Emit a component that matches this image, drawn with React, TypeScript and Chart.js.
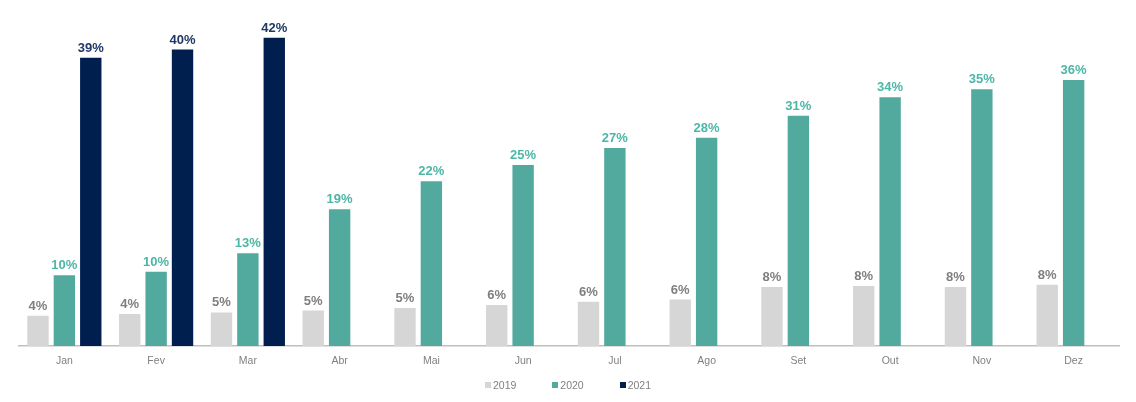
import React, { useEffect, useRef } from 'react';
import { Chart, registerables } from 'chart.js';

Chart.register(...registerables);

const months = ['Jan', 'Fev', 'Mar', 'Abr', 'Mai', 'Jun', 'Jul', 'Ago', 'Set', 'Out', 'Nov', 'Dez'];
const seriesNames = ['2019', '2020', '2021'];
const values2019 = [4.1, 4.35, 4.55, 4.8, 5.15, 5.55, 6.0, 6.3, 8.0, 8.15, 8.0, 8.3];
const values2020 = [9.6, 10.1, 12.6, 18.6, 22.4, 24.6, 26.9, 28.3, 31.3, 33.8, 34.9, 36.15];
const values2021 = [39.2, 40.3, 41.9, null, null, null, null, null, null, null, null, null];

const barColors = ['#D6D6D6', '#52AA9E', '#001F4F'];
const labelColors = ['#7F7F7F', '#4CB7A7', '#1F3864'];

const FONT = '"Liberation Sans", Arial, sans-serif';

const valueLabels = {
  id: 'valueLabels',
  afterDatasetsDraw(chart: any) {
    const ctx = chart.ctx;
    chart.data.datasets.forEach((ds: any, i: number) => {
      const meta = chart.getDatasetMeta(i);
      meta.data.forEach((bar: any, j: number) => {
        const v = ds.data[j];
        if (v == null) return;
        ctx.save();
        ctx.font = `bold 13px ${FONT}`;
        ctx.fillStyle = labelColors[i];
        ctx.textAlign = 'center';
        ctx.textBaseline = 'alphabetic';
        ctx.fillText(`${Math.round(v)}%`, bar.x, bar.y - 6);
        ctx.restore();
      });
    });
  },
};

export default function App() {
  const canvasRef = useRef<HTMLCanvasElement | null>(null);

  useEffect(() => {
    document.body.style.margin = '0';
    const canvas = canvasRef.current;
    if (!canvas) return;
    const chart = new Chart(canvas, {
      type: 'bar',
      data: {
        labels: months,
        datasets: [values2019, values2020, values2021].map((d, i) => ({
          label: seriesNames[i],
          data: d,
          backgroundColor: barColors[i],
          borderWidth: 0,
          categoryPercentage: 0.863,
          barPercentage: 0.81,
        })),
      },
      options: {
        animation: false,
        responsive: false,
        maintainAspectRatio: false,
        layout: { padding: { left: 18.5, right: 16.5, top: 15, bottom: 25.5 } },
        plugins: {
          legend: { display: false },
          tooltip: { enabled: false },
        },
        scales: {
          x: {
            grid: { display: false, drawTicks: false },
            border: { display: true, color: '#BFBFBF', width: 1.5 },
            ticks: { color: '#808080', font: { family: FONT, size: 10.5 }, padding: 9 },
          },
          y: {
            display: false,
            min: 0,
            max: 45,
          },
        },
      },
      plugins: [valueLabels],
    });
    return () => chart.destroy();
  }, []);

  return (
    <div style={{ position: 'relative', width: 1136, height: 402 }}>
      <canvas ref={canvasRef} width={1136} height={402} style={{ display: 'block' }} />
      <div
        style={{
          position: 'absolute',
          left: 0,
          width: 1136,
          top: 378,
          display: 'flex',
          justifyContent: 'center',
          gap: 36,
          fontFamily: FONT,
          fontSize: 10.5,
          color: '#808080',
          lineHeight: '14px',
        }}
      >
        {seriesNames.map((name, i) => (
          <span key={name} style={{ display: 'inline-flex', alignItems: 'center' }}>
            <span
              style={{
                display: 'inline-block',
                width: 6,
                height: 6,
                background: barColors[i],
                marginRight: 2,
              }}
            />
            {name}
          </span>
        ))}
      </div>
    </div>
  );
}
